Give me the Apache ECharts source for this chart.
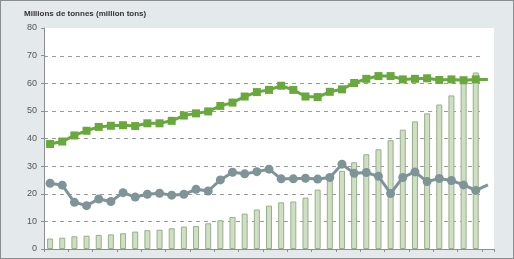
<!DOCTYPE html>
<html lang="fr">
<head>
    <meta charset="UTF-8">
    <title>Millions de tonnes</title>
    <style>
        html, body { margin: 0; padding: 0; background: #e4e9eb; }
        #main { width: 514px; height: 259px; box-sizing: border-box; border: 1px solid #8a8e90; }
    </style>
</head>
<body>
<div id="main"></div>
<script src="https://cdn.jsdelivr.net/npm/echarts@6/dist/echarts.min.js"></script>
<script>
// 37 category slots, the last one only carries the line ends
const categories = Array.from(Array(37)).map((it, index) => String(index + 1))

const barValues = [3.8, 4.1, 4.6, 4.8, 5.1, 5.3, 5.7, 6.3, 6.8, 7.0, 7.5, 8.1, 8.3, 9.3, 10.4, 11.6,
    12.8, 14.3, 15.7, 16.9, 17.2, 18.6, 21.5, 25.0, 28.3, 31.4, 34.3, 36.1, 39.4, 43.2, 46.2, 49.1,
    52.3, 55.6, 60.9, 63.9, null]

const greenValues = [38.0, 38.9, 41.1, 42.8, 44.2, 44.6, 44.8, 44.5, 45.5, 45.5, 46.4, 48.3, 49.1,
    49.8, 51.8, 53.0, 55.2, 56.8, 57.6, 59.1, 57.6, 55.2, 55.0, 56.9, 57.8, 60.1, 61.6, 62.6, 62.6,
    61.4, 61.6, 61.8, 61.2, 61.4, 61.1, 61.4, 61.4]

const grayValues = [23.8, 23.1, 16.9, 15.7, 18.1, 17.2, 20.4, 18.8, 19.8, 20.2, 19.5, 19.8, 21.6,
    21.0, 25.0, 27.8, 27.2, 28.0, 28.9, 25.4, 25.4, 25.6, 25.3, 25.9, 30.7, 27.4, 27.7, 26.3, 20.1,
    25.9, 27.9, 24.4, 25.5, 24.8, 23.2, 21.2, 23.2]

const Y_MIN = 0
const Y_MAX = 80
const Y_STEP = 10

const GREEN = '#68a83c'
const GRAY = '#7f9497'
const AXIS = '#8a8f91'
const FONT = '"Liberation Sans", Arial, sans-serif'

const TOP = 27
const BOTTOM = 9
const PLOT_H = 259 - TOP - BOTTOM
// dashed lines only go up to 70, so their grid starts one step lower
const DASH_TOP = TOP + PLOT_H * Y_STEP / (Y_MAX - Y_MIN)

// hide the marker on the last point of each line
function withEndPoint(values) {
    return values.map((v, i) => i === values.length - 1 ? {value: v, symbol: 'none'} : v)
}

let myChart = echarts.init(document.getElementById('main'))
let option = {
    animation: false,
    title: {
        text: 'Millions de tonnes (million tons)',
        left: 23,
        top: 9,
        padding: 0,
        textStyle: {fontFamily: FONT, fontSize: 8, fontWeight: 'bold', color: '#333'}
    },
    grid: [
        // white plotting area with the category axis
        {left: 43, right: 19, top: TOP, bottom: BOTTOM, show: true, backgroundColor: '#fff', borderWidth: 0},
        // value axis labels
        {left: 43, right: 32, top: TOP, bottom: BOTTOM},
        // dashed grid lines, which stop a bit short on the right
        {left: 43, right: 32, top: DASH_TOP, bottom: BOTTOM}
    ],
    xAxis: [
        {
            type: 'category', gridIndex: 0, data: categories, boundaryGap: true,
            axisLine: {lineStyle: {color: AXIS, width: 1}},
            axisTick: {show: true, length: 3, alignWithLabel: false, lineStyle: {color: AXIS}},
            axisLabel: {show: false}
        },
        {type: 'category', gridIndex: 1, data: categories, show: false},
        {type: 'category', gridIndex: 2, data: categories, show: false}
    ],
    yAxis: [
        {type: 'value', gridIndex: 0, min: Y_MIN, max: Y_MAX, interval: Y_STEP, show: false},
        {
            type: 'value', gridIndex: 1, min: Y_MIN, max: Y_MAX, interval: Y_STEP,
            axisLine: {show: true, lineStyle: {color: AXIS}},
            axisTick: {show: true, length: 3, lineStyle: {color: AXIS}},
            axisLabel: {color: '#555', fontFamily: FONT, fontSize: 9, margin: 7},
            splitLine: {show: false}
        },
        {
            type: 'value', gridIndex: 2, min: Y_MIN, max: Y_MAX - Y_STEP, interval: Y_STEP,
            axisLine: {show: false}, axisTick: {show: false}, axisLabel: {show: false},
            splitLine: {lineStyle: {color: '#9a9a9a', type: [4, 4], width: 1}}
        }
    ],
    series: [
        {
            type: 'bar', xAxisIndex: 0, yAxisIndex: 0, data: barValues, barWidth: 6,
            itemStyle: {color: '#cfdfc3', borderColor: '#99ae8b', borderWidth: 1}
        },
        {
            type: 'line', xAxisIndex: 0, yAxisIndex: 0, data: withEndPoint(greenValues),
            symbol: 'rect', symbolSize: 8, showAllSymbol: true,
            lineStyle: {color: GREEN, width: 3}, itemStyle: {color: GREEN}
        },
        {
            type: 'line', xAxisIndex: 0, yAxisIndex: 0, data: withEndPoint(grayValues),
            symbol: 'circle', symbolSize: 9, showAllSymbol: true,
            lineStyle: {color: GRAY, width: 3}, itemStyle: {color: GRAY}
        }
    ]
}
myChart.setOption(option)
</script>
</body>
</html>
